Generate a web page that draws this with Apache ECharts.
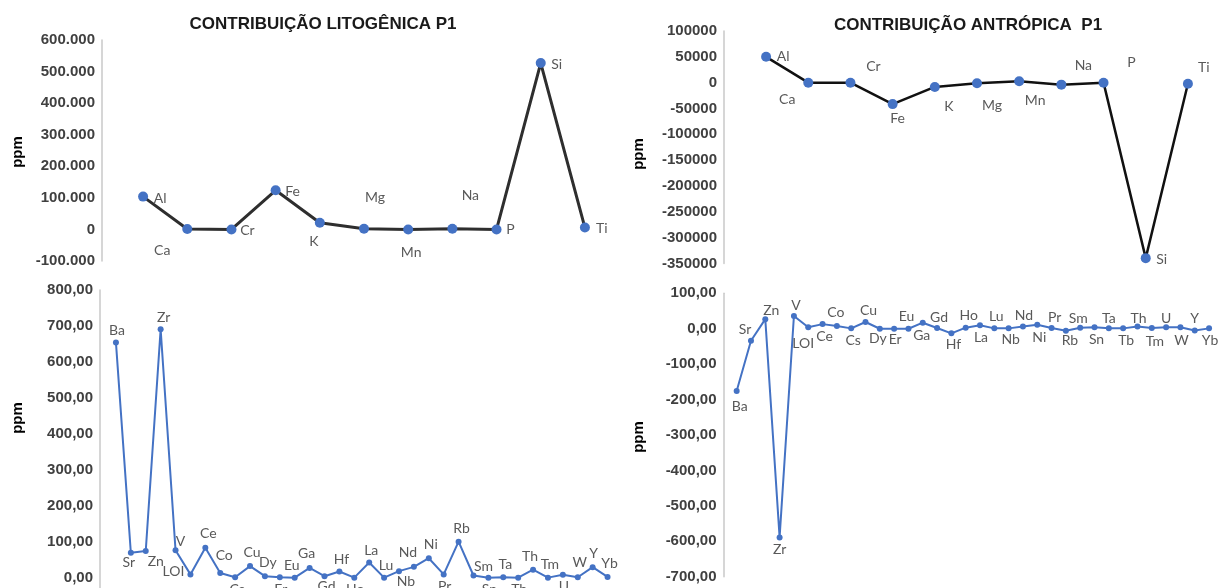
<!DOCTYPE html>
<html>
<head>
<meta charset="utf-8">
<script src="https://cdn.jsdelivr.net/npm/echarts@6/dist/echarts.min.js"></script>
<style>
  html, body { margin: 0; padding: 0; background: #ffffff; }
  #chart { width: 1228px; height: 588px; }
</style>
</head>
<body>
<div id="chart"></div>
<script>
// Major elements (ppm)
const majorElements = ['Al', 'Ca', 'Cr', 'Fe', 'K', 'Mg', 'Mn', 'Na', 'P', 'Si', 'Ti'];
const litoMajor = [104000, 1500, 0, 124000, 21000, 2000, 0, 2000, 0, 527000, 6000];
const antroMajor = [50000, 0, 0, -41500, -8300, -1000, 2600, -3800, 0, -339600, -2000];

// Trace elements (ppm)
const traceElements = ['Ba', 'Sr', 'Zn', 'Zr', 'V', 'LOI', 'Ce', 'Co', 'Cs', 'Cu', 'Dy', 'Er', 'Eu', 'Ga', 'Gd', 'Hf', 'Ho',
  'La', 'Lu', 'Nb', 'Nd', 'Ni', 'Pr', 'Rb', 'Sm', 'Sn', 'Ta', 'Tb', 'Th', 'Tm', 'U', 'W', 'Y', 'Yb'];
const litoTrace = [654, 70, 75, 691, 77, 10, 84, 14, 2, 33, 5, 2, 1, 28, 5, 18, 1,
  43, 1, 19, 31, 55, 10, 101, 7, 1, 2, 1, 23, 1, 9, 2, 30, 3];
const antroTrace = [-176, -34, 27, -589, 36, 4, 13, 8, 1, 19, 0, 0, 0, 17, 2, -13, 3,
  10, 1, 1, 6, 11, 2, -6, 3, 4, 1, 1, 6, 2, 4, 4, -5, 1];

const titles = ['CONTRIBUIÇÃO LITOGÊNICA P1', 'CONTRIBUIÇÃO ANTRÓPICA  P1'];

// Where each point's name sits relative to its marker, in pixels [dx, dy]
const litoMajorShift = {
  Al: [17, 2], Ca: [-25, 22], Cr: [16, 1], Fe: [17, 1], K: [-6, 19], Mg: [11, -31],
  Mn: [3, 23], Na: [18, -33], P: [14, 0], Si: [16, 1], Ti: [17, 1]
};
const antroMajorShift = {
  Al: [17, 0], Ca: [-21, 17], Cr: [23, -16], Fe: [5, 14], K: [14, 20], Mg: [15, 22],
  Mn: [16, 19], Na: [22, -19], P: [28, -20], Si: [16, 1], Ti: [16, -16]
};
const litoTraceShift = {
  Ba: [1, -12], Sr: [-2, 10], Zn: [10, 10], Zr: [3, -12], V: [5, -9], LOI: [-17, -3], Ce: [3, -14],
  Co: [4, -17], Cs: [2, 12], Cu: [2, -14], Dy: [3, -14], Er: [1, 12], Eu: [-3, -12], Ga: [-3, -14],
  Gd: [2, 10], Hf: [2, -12], Ho: [1, 12], La: [2, -12], Lu: [2, -12], Nb: [7, 10], Nd: [-6, -14],
  Ni: [2, -14], Pr: [1, 12], Rb: [3, -13], Sm: [10, -9], Sn: [1, 12], Ta: [2, -13], Tb: [1, 12],
  Th: [-3, -13], Tm: [2, -13], U: [1, 12], W: [2, -15], Y: [1, -14], Yb: [2, -13]
};
const antroTraceShift = {
  Ba: [3, 15], Sr: [-6, -11], Zn: [6, -9], Zr: [0, 12], V: [2, -10], LOI: [-5, 16], Ce: [2, 12],
  Co: [-1, -13], Cs: [2, 12], Cu: [3, -12], Dy: [-2, 10], Er: [1, 11], Eu: [-2, -12], Ga: [-1, 13],
  Gd: [2, -11], Hf: [2, 11], Ho: [3, -12], La: [1, 12], Lu: [2, -12], Nb: [2, 11], Nd: [1, -11],
  Ni: [2, 13], Pr: [3, -11], Rb: [4, 10], Sm: [-2, -9], Sn: [2, 12], Ta: [0, -10], Tb: [3, 12],
  Th: [1, -8], Tm: [3, 13], U: [0, -9], W: [1, 13], Y: [0, -12], Yb: [1, 12]
};

const AXIS_FONT = { fontFamily: 'Liberation Sans, Arial, sans-serif', fontSize: 15, fontWeight: 'bold', color: '#404040' };
const POINT_FONT = { fontFamily: 'Lato, Open Sans, sans-serif', fontSize: 14, color: '#595959' };

function thousandsDot(v) {
  if (v === 0) return '0';
  const s = Math.abs(v).toLocaleString('en-US').replace(/,/g, '.');
  return (v < 0 ? '-' : '') + s;
}
function decimalComma(v) {
  return v.toFixed(2).replace('.', ',');
}

function pointData(names, values, shifts) {
  return values.map((v, i) => ({
    value: v,
    label: { offset: shifts[names[i]] || [0, 0] }
  }));
}

function yAxisFor(gridIndex, min, max, interval, offset, formatter) {
  return {
    type: 'value', gridIndex, min, max, interval, offset,
    axisLine: { show: true, lineStyle: { color: '#c9c9c9', width: 1.5 } },
    axisTick: { show: false },
    splitLine: { show: false },
    axisLabel: Object.assign({ formatter, margin: 7 }, AXIS_FONT)
  };
}

function xAxisFor(gridIndex, names) {
  return {
    type: 'category', gridIndex, data: names, boundaryGap: true,
    axisLine: { show: false }, axisTick: { show: false }, axisLabel: { show: false }, splitLine: { show: false }
  };
}

function seriesFor(idx, names, values, shifts, lineColor, lineWidth, symbolSize) {
  return {
    type: 'line', xAxisIndex: idx, yAxisIndex: idx,
    data: pointData(names, values, shifts),
    symbol: 'circle', symbolSize,
    itemStyle: { color: '#4472c4' },
    lineStyle: { color: lineColor, width: lineWidth },
    label: Object.assign({
      show: true, position: 'inside',
      formatter: p => p.name,
      textBorderWidth: 0
    }, POINT_FONT),
    emphasis: { disabled: true },
    z: 3
  };
}

const ppmStyle = { text: 'ppm', font: 'bold 15px "Liberation Sans", Arial, sans-serif', fill: '#000', textAlign: 'center', textVerticalAlign: 'middle' };

// Grids are placed exactly; the lower-left one runs past the page's bottom edge
function gridAt(left, width, top, height) {
  return { left, width, top, height, containLabel: false, outerBoundsMode: 'none' };
}

const chart = echarts.init(document.getElementById('chart'), null, { renderer: 'canvas' });
chart.setOption({
  animation: false,
  backgroundColor: '#ffffff',
  title: [
    { text: titles[0], left: 318, top: 11, textAlign: 'center',
      textStyle: { fontFamily: 'Liberation Sans, Arial, sans-serif', fontSize: 17, fontWeight: 'bold', color: '#1a1a1a' } },
    { text: titles[1], left: 963, top: 12, textAlign: 'center',
      textStyle: { fontFamily: 'Liberation Sans, Arial, sans-serif', fontSize: 17, fontWeight: 'bold', color: '#1a1a1a' } }
  ],
  grid: [
    gridAt(121, 486, 40, 221),
    gridAt(745, 464, 31, 232.5),
    gridAt(108.5, 506.5, 290, 324),
    gridAt(729.5, 486.7, 293.3, 283.4)
  ],
  xAxis: [
    xAxisFor(0, majorElements),
    xAxisFor(1, majorElements),
    xAxisFor(2, traceElements),
    xAxisFor(3, traceElements)
  ],
  yAxis: [
    yAxisFor(0, -100000, 600000, 100000, 19, thousandsDot),
    yAxisFor(1, -350000, 100000, 50000, 21, v => String(v)),
    yAxisFor(2, -100, 800, 100, 8.5, decimalComma),
    yAxisFor(3, -700, 100, 100, 6, decimalComma)
  ],
  series: [
    seriesFor(0, majorElements, litoMajor, litoMajorShift, '#2e2e2e', 3, 10),
    seriesFor(1, majorElements, antroMajor, antroMajorShift, '#111111', 2.5, 10),
    seriesFor(2, traceElements, litoTrace, litoTraceShift, '#4472c4', 2, 6),
    seriesFor(3, traceElements, antroTrace, antroTraceShift, '#4472c4', 2, 6)
  ],
  graphic: [
    { type: 'text', x: 18, y: 152, rotation: Math.PI / 2, style: ppmStyle },
    { type: 'text', x: 639, y: 154, rotation: Math.PI / 2, style: ppmStyle },
    { type: 'text', x: 18, y: 418, rotation: Math.PI / 2, style: ppmStyle },
    { type: 'text', x: 639, y: 437, rotation: Math.PI / 2, style: ppmStyle }
  ]
});
</script>
</body>
</html>
